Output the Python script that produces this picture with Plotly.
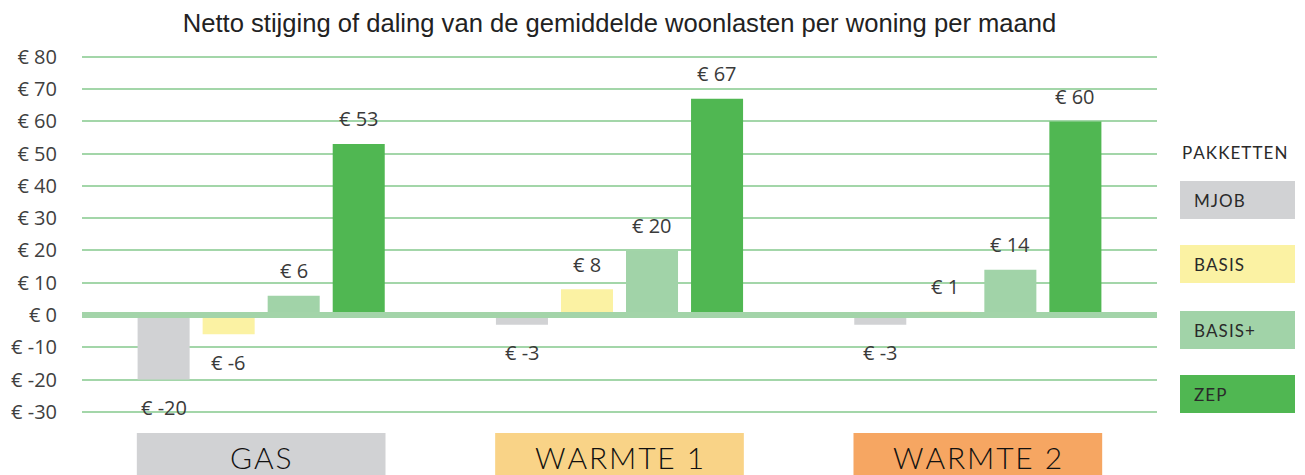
import plotly.graph_objects as go

categories = ["GAS", "WARMTE 1", "WARMTE 2"]
series_names = ["MJOB", "BASIS", "BASIS+", "ZEP"]
mjob = [-20, -3, -3]
basis = [-6, 8, 1]
basis_plus = [6, 20, 14]
zep = [53, 67, 60]
tick_values = [-30, -20, -10, 0, 10, 20, 30, 40, 50, 60, 70, 80]
tick_labels = ["€ %d" % v for v in tick_values]

series_values = [mjob, basis, basis_plus, zep]
series_colors = ["#d1d2d4", "#fbf2a3", "#a1d3a8", "#50b752"]
cat_colors = ["#d1d2d4", "#f9d387", "#f6a662"]

W, H = 1305, 475
L, R, T, B = 82, 148, 45, 0
ppu = 3.227  # pixels per unit
y_zero_px = 315
y_top = (y_zero_px - T) / ppu
y_bot = -(H - B - y_zero_px) / ppu

HS = "\u200a"
def spaced(s):
    return HS.join(list(s))

fig = go.Figure()
for name, vals, col in zip(series_names, series_values, series_colors):
    fig.add_trace(go.Bar(x=categories, y=vals, name=name, marker=dict(color=col, line=dict(width=0)),
                         showlegend=False))

annotations = []
spacing_px = 65
for i, vals in enumerate(series_values):
    for c, v in zip(categories, vals):
        annotations.append(dict(x=c, y=v, xref="x", yref="y", text="€ %d" % v, showarrow=False,
                                xshift=(i - 1.5) * spacing_px, yshift=(25 if v >= 0 else -28),
                                font=dict(family="Open Sans", size=20, color="#3a3a3a")))

shapes = []
# thick zero line drawn above bars
shapes.append(dict(type="line", xref="paper", yref="y", x0=0, x1=1, y0=0, y1=0,
                   line=dict(color="#a3d4a9", width=6), layer="above"))
half = 0.347
box_top = -(433 - y_zero_px) / ppu
for k, (c, col) in enumerate(zip(categories, cat_colors)):
    shapes.append(dict(type="rect", xref="x", yref="y", x0=k - half, x1=k + half, y0=y_bot - 5, y1=box_top,
                       fillcolor=col, line=dict(width=0), layer="below"))
    annotations.append(dict(x=c, y=-(457 - y_zero_px) / ppu, xref="x", yref="y", text=spaced(c), showarrow=False,
                            yanchor="middle", font=dict(family="Lato", size=30, color="#111111", weight=300)))

pw = W - L - R
ph = H - T - B
def px_x(x):
    return (x - L) / pw
def px_y(y):
    return (H - B - y) / ph

annotations.append(dict(x=px_x(1180), y=px_y(152), xref="paper", yref="paper", text=spaced("PAKKETTEN"),
                        showarrow=False, xanchor="left", yanchor="middle",
                        font=dict(family="Lato", size=17, color="#2a2a2a")))
box_tops = [181, 245, 311, 375]
for name, col, top in zip(series_names, series_colors, box_tops):
    shapes.append(dict(type="rect", xref="paper", yref="paper", x0=px_x(1180), x1=px_x(1295),
                       y0=px_y(top + 38), y1=px_y(top), fillcolor=col, line=dict(width=0)))
    annotations.append(dict(x=px_x(1192), y=px_y(top + 19), xref="paper", yref="paper", text=spaced(name),
                            showarrow=False, xanchor="left", yanchor="middle",
                            font=dict(family="Lato", size=17, color="#2a2a2a")))

fig.update_layout(
    width=W, height=H, autosize=False,
    margin=dict(l=L, r=R, t=T, b=B, pad=0),
    plot_bgcolor="white", paper_bgcolor="white",
    barmode="group", bargap=0.274, bargroupgap=0.2,
    title=dict(text="Netto stijging of daling van de gemiddelde woonlasten per woning per maand",
               x=0.5, xref="paper", y=1 - 23 / H, yref="container", xanchor="center", yanchor="middle",
               font=dict(family="Liberation Sans", size=25.6, color="#222222")),
    xaxis=dict(range=[-0.5, 2.5], showticklabels=False, showgrid=False, zeroline=False, showline=False,
               ticks=""),
    yaxis=dict(range=[y_bot, y_top], tickvals=tick_values, ticktext=tick_labels, showgrid=True,
               gridcolor="#a3d6a9", gridwidth=1.5, zeroline=False,
               showline=False, ticks="", ticklabelstandoff=24,
               tickfont=dict(family="Open Sans", size=20, color="#404040")),
    shapes=shapes, annotations=annotations,
)

fig.write_html("out.html", config={"displayModeBar": False}, post_script="document.body.style.margin='0';")
